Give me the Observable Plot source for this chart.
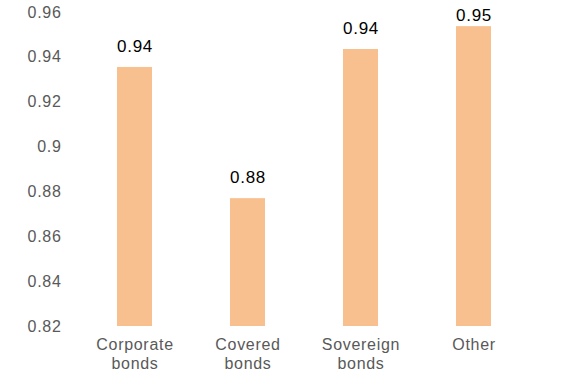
<!DOCTYPE html>
<html><head><meta charset="utf-8">
<script src="https://cdn.jsdelivr.net/npm/d3@7"></script>
<script src="https://cdn.jsdelivr.net/npm/@observablehq/plot@0.6"></script>
<style>body{margin:0;background:#fff;font-family:"Liberation Sans",Arial,sans-serif;} svg text{letter-spacing:0.7px;}</style>
</head><body><div id="chart"></div>
<script>
const categories = ["Corporate\nbonds", "Covered\nbonds", "Sovereign\nbonds", "Other"];
const values = [0.9355, 0.877, 0.9435, 0.9537];
const valueLabels = ["0.94", "0.88", "0.94", "0.95"];
const yTicks = [0.82, 0.84, 0.86, 0.88, 0.9, 0.92, 0.94, 0.96];

const data = categories.map((c, i) => ({cat: c, value: values[i], label: valueLabels[i]}));

const chart = Plot.plot({
  width: 561, height: 376,
  marginLeft: 77, marginRight: 30, marginTop: 12, marginBottom: 50,
  style: {fontFamily: '"Liberation Sans", Arial, sans-serif', fontSize: "16px", background: "#fff"},
  x: {domain: categories, paddingInner: 0.69, paddingOuter: 0.345, label: null},
  y: {domain: [0.82, 0.96], label: null},
  marks: [
    Plot.barY(data, {x: "cat", y1: 0.82, y2: "value", fill: "#F9C08F"}),
    Plot.text(data, {x: "cat", y: d => Math.min(d.value, 0.9493), text: "label", dy: -21, fontSize: 17, fill: "#000"}),
    Plot.axisY({ticks: yTicks, tickSize: 0, tickPadding: 16, tickFormat: d => String(+d.toFixed(2)), fontSize: 16, fill: "#595959", color: "#595959"}),
    Plot.axisX({tickSize: 0, tickPadding: 10, fontSize: 16, fill: "#595959", lineHeight: 1.19})
  ]
});
document.getElementById("chart").appendChild(chart);
</script></body></html>
